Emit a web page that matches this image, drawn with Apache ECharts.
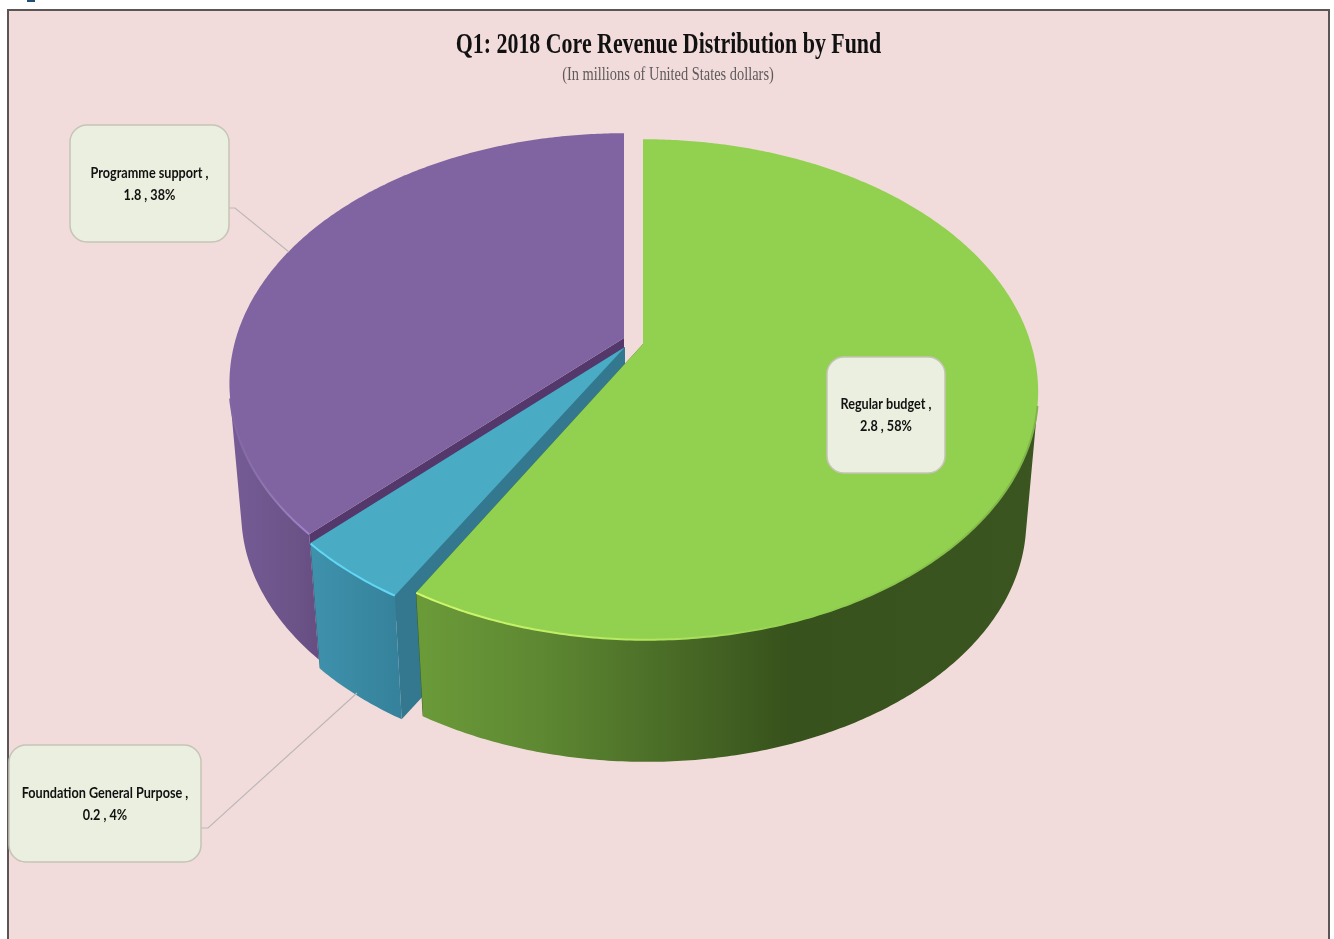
<!DOCTYPE html>
<html>
<head>
<meta charset="utf-8">
<title>Q1: 2018 Core Revenue Distribution by Fund</title>
<script src="https://cdn.jsdelivr.net/npm/echarts@6/dist/echarts.min.js"></script>
<style>
    html, body { margin: 0; padding: 0; background: #fff; }
    #chart { width: 1334px; height: 939px; }
</style>
</head>
<body>
<div id="chart"></div>
<script>
const categories = ['Regular budget', 'Foundation General Purpose', 'Programme support'];
const values = [2.8, 0.2, 1.8];
const titleText = 'Q1: 2018 Core Revenue Distribution by Fund';
const subtitleText = '(In millions of United States dollars)';

// pie geometry: perspective disc, depth goes to a slightly smaller bottom disc
const W = 388, H = 242, K = 0.1817, DEPTH = 131, BOTTOM_SCALE = 0.97;

const sliceStyles = [
    {
        cx: 643, cy: 344, skew: 3, order: 3, top: '#92d050', wall: '#3d5a20',
        side: [[0, '#6b9b39'], [0.2, '#5e8832'], [0.6, '#37521c'], [1, '#3b5520']],
        rim: [[0, '#d2f96e'], [0.35, '#b6e862'], [0.62, '#92d050'], [1, '#7fb548']],
        box: [827, 357, 118, 116], textY: 415, leader: null
    },
    {
        cx: 625, cy: 347, skew: 0, order: 2, top: '#4aabc5', wall: '#33788f',
        side: [[0, '#3f92ac'], [1, '#35819b']],
        rim: [[0, '#62d6f4'], [1, '#62d6f4']],
        box: [9, 745, 192, 117], textY: 804,
        leader: [[201, 828], [208, 828], [357, 693]]
    },
    {
        cx: 624, cy: 338, skew: 0, order: 1, top: '#8064a2', wall: '#54386c',
        side: [[0, '#755c96'], [0.7, '#6c5388'], [1, '#674e82']],
        rim: [[0, '#8064a2'], [0.5, '#9078b0'], [1, '#a283cc']],
        box: [70, 125, 159, 117], textY: 184,
        leader: [[229, 208], [235, 208], [289, 252]]
    }
];

const total = values.reduce((a, b) => a + b, 0);

function project(s, a, bottom) {
    const u = Math.sin(a), v = -Math.cos(a), w = 1 - K * v;
    let x = (W * u + s.skew * Math.max(v, 0)) / w, y = H * v / w;
    if (bottom) {
        return [s.cx + x * BOTTOM_SCALE, s.cy + DEPTH + y * BOTTOM_SCALE];
    }
    return [s.cx + x, s.cy + y];
}

function arc(s, a0, a1, bottom) {
    const pts = [], n = Math.max(4, Math.ceil((a1 - a0) / 0.01));
    for (let i = 0; i <= n; i++) {
        pts.push(project(s, a0 + (a1 - a0) * i / n, bottom));
    }
    return pts;
}

// wall faces the viewer when the rim tangent and the drop to the bottom disc turn the right way
function wallVisible(s, a) {
    const p = project(s, a, false), q = project(s, a + 0.001, false), b = project(s, a, true);
    return (q[0] - p[0]) * (b[1] - p[1]) - (q[1] - p[1]) * (b[0] - p[0]) < 0;
}

function visibleRange(s, a0, a1) {
    let from = null, to = null;
    for (let a = a0; a <= a1; a += 0.002) {
        if (wallVisible(s, a)) {
            if (from === null) from = a;
            to = a;
        }
    }
    return [from, to];
}

function gradient(stops) {
    return new echarts.graphic.LinearGradient(0, 0, 1, 0,
        stops.map(d => ({ offset: d[0], color: d[1] })));
}

function renderItem(params, api) {
    const i = params.dataIndex;
    const val = api.value(0);
    const s = sliceStyles[i];
    const before = values.slice(0, i).reduce((a, b) => a + b, 0);
    const a0 = before / total * Math.PI * 2;
    const a1 = (before + val) / total * Math.PI * 2;
    const base = s.order * 10;
    const apexTop = [s.cx, s.cy], apexBottom = [s.cx, s.cy + DEPTH];
    const children = [];

    // cut faces of the slice
    [a0, a1].forEach(function (a) {
        children.push({
            type: 'polygon', z2: base,
            shape: { points: [apexTop, project(s, a, false), project(s, a, true), apexBottom] },
            style: { fill: s.wall }
        });
    });
    // outer wall, near side only so the silhouette closes on a straight line
    const range = visibleRange(s, a0, a1);
    children.push({
        type: 'polygon', z2: base + 1,
        shape: { points: arc(s, range[0], range[1], false).concat(arc(s, range[0], range[1], true).reverse()) },
        style: { fill: gradient(s.side) }
    });
    // top face
    children.push({
        type: 'polygon', z2: base + 2,
        shape: { points: [apexTop].concat(arc(s, a0, a1, false)) },
        style: { fill: s.top }
    });
    // bright bevel on the front rim
    children.push({
        type: 'polyline', z2: base + 3,
        shape: { points: arc(s, range[0], range[1], false) },
        style: { fill: null, stroke: gradient(s.rim), lineWidth: 2 }
    });

    if (s.leader) {
        children.push({
            type: 'polyline', z2: 90,
            shape: { points: s.leader },
            style: { fill: null, stroke: '#bdb8b8', lineWidth: 1.2 }
        });
    }
    children.push({
        type: 'rect', z2: 91,
        shape: { x: s.box[0], y: s.box[1], width: s.box[2], height: s.box[3], r: 17 },
        style: { fill: '#ebefdf', stroke: '#c6c4b8', lineWidth: 1.5 }
    });
    const pct = Math.round(val / total * 100);
    children.push({
        type: 'text', z2: 92,
        x: s.box[0] + s.box[2] / 2,
        y: s.textY,
        scaleX: 0.79,
        style: {
            text: categories[i] + ' ,\n' + val.toFixed(1) + ' , ' + pct + '%',
            fill: '#111',
            font: 'bold 16px Lato, "Liberation Sans", sans-serif',
            lineHeight: 22,
            align: 'center',
            verticalAlign: 'middle'
        }
    });
    return { type: 'group', children: children };
}

const chart = echarts.init(document.getElementById('chart'));

chart.setOption({
    animation: false,
    backgroundColor: '#ffffff',
    graphic: [
        {
            type: 'rect', z: -10, silent: true,
            shape: { x: 8, y: 10, width: 1321, height: 960 },
            style: { fill: '#f2dcdb', stroke: '#5c5556', lineWidth: 2 }
        },
        {
            type: 'rect', z: -10, silent: true,
            shape: { x: 27, y: 0, width: 8, height: 2 },
            style: { fill: '#1f4e79' }
        },
        {
            type: 'text', z: 5, x: 668.5, y: 45, scaleX: 0.73,
            style: {
                text: titleText,
                font: 'bold 30px "Liberation Serif", serif',
                fill: '#111',
                align: 'center',
                verticalAlign: 'middle'
            }
        },
        {
            type: 'text', z: 5, x: 668, y: 75, scaleX: 0.8,
            style: {
                text: subtitleText,
                font: '18px "Liberation Serif", serif',
                fill: '#5f5a5a',
                align: 'center',
                verticalAlign: 'middle'
            }
        }
    ],
    series: [
        {
            type: 'custom',
            coordinateSystem: 'none',
            renderItem: renderItem,
            silent: true,
            data: values.map((v, i) => ({ name: categories[i], value: [v] }))
        }
    ]
});
</script>
</body>
</html>
